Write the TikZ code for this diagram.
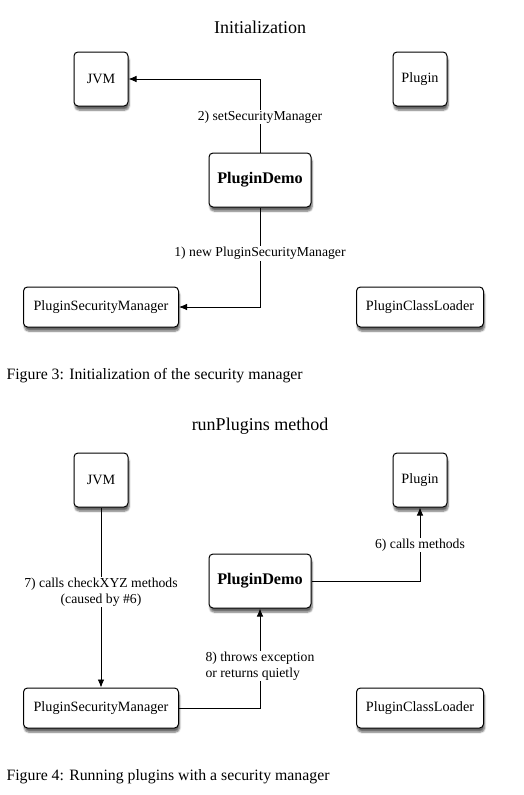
\documentclass[tikz,border=0pt]{standalone}
\usepackage{fontspec}
\setmainfont{Liberation Serif}
\usetikzlibrary{shadows.blur,arrows.meta}
\tikzset{
  box/.style={draw, line width=1pt, rounded corners=4pt, fill=white, inner sep=0pt,
    font=\fontsize{14.2}{16}\selectfont,
    blur shadow={shadow xshift=1pt, shadow yshift=-4pt, shadow blur steps=6, shadow opacity=60}},
  lbl/.style={fill=white, inner sep=1pt, font=\fontsize{13.7}{16}\selectfont},
  conn/.style={-{Latex[length=8pt,width=6.5pt]}, line width=0.8pt}
}
\begin{document}
\begin{tikzpicture}[x=1pt, y=-1pt]
  \useasboundingbox (0,0) rectangle (524,795);
  \node[font=\fontsize{18}{20}\selectfont] (ttlA) at (260,27) {Initialization};
  \node[box, minimum width=54pt, minimum height=54pt] (jvmA) at (101,79) {JVM};
  \node[box, minimum width=54pt, minimum height=54pt] (pluginA) at (420,79) {Plugin};
  \node[box, minimum width=102pt, minimum height=54pt, font=\fontsize{16.2}{18}\selectfont\bfseries] (demoA) at (260,180) {PluginDemo};
  \node[box, minimum width=155pt, minimum height=40pt] (psmA) at (101,307) {PluginSecurityManager};
  \node[box, minimum width=127pt, minimum height=40pt] (pclA) at (420,307) {PluginClassLoader};
  \draw[conn] (demoA.north) |- node[lbl, pos=0.243] {2) setSecurityManager} (jvmA.east);
  \draw[conn] (demoA.south) |- node[lbl, pos=0.23] {1) new PluginSecurityManager} (psmA.east);
  \node[anchor=west, font=\fontsize{15.8}{18}\selectfont] (capA) at (3,376) {Figure 3: Initialization of the security manager};

  \node[font=\fontsize{18}{20}\selectfont] (ttlB) at (260,426) {runPlugins method};
  \node[box, minimum width=54pt, minimum height=54pt] (jvmB) at (101,480) {JVM};
  \node[box, minimum width=54pt, minimum height=54pt] (pluginB) at (420,480) {Plugin};
  \node[box, minimum width=102pt, minimum height=54pt, font=\fontsize{16.2}{18}\selectfont\bfseries] (demoB) at (260,581) {PluginDemo};
  \node[box, minimum width=155pt, minimum height=40pt] (psmB) at (101,708) {PluginSecurityManager};
  \node[box, minimum width=127pt, minimum height=40pt] (pclB) at (420,708) {PluginClassLoader};
  \draw[conn] (demoB.east) -| node[lbl, pos=0.743] {6) calls methods} (pluginB.south);
  \draw[conn] (jvmB.south) -- node[lbl, pos=0.47, align=center] {7) calls checkXYZ methods\\(caused by \#6)} (psmB.north);
  \draw[conn] (psmB.east) -| node[lbl, pos=0.71, align=left] {8) throws exception\\or returns quietly} (demoB.south);
  \node[anchor=west, font=\fontsize{15.8}{18}\selectfont] (capB) at (3,777) {Figure 4: Running plugins with a security manager};
\end{tikzpicture}
\end{document}
